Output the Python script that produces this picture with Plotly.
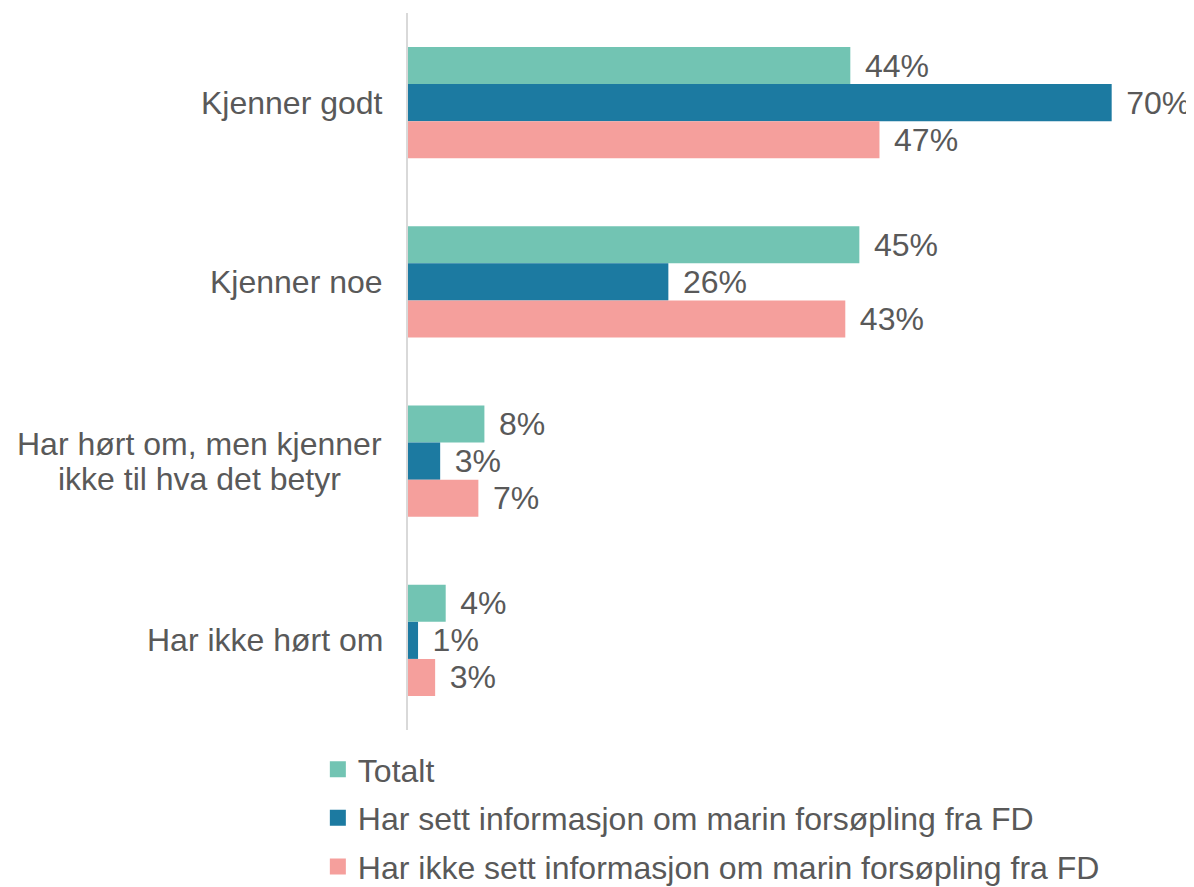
import plotly.graph_objects as go

categories = ["Kjenner godt", "Kjenner noe", "Har hørt om, men kjenner<br>ikke til hva det betyr", "Har ikke hørt om"]
series_names = ["Totalt", "Har sett informasjon om marin forsøpling fra FD", "Har ikke sett informasjon om marin forsøpling fra FD"]
totalt = [44.0, 44.9, 7.6, 3.75]
sett = [70.0, 25.9, 3.2, 1.0]
ikke_sett = [46.9, 43.5, 7.0, 2.7]
labels_totalt = ["44%", "45%", "8%", "4%"]
labels_sett = ["70%", "26%", "3%", "1%"]
labels_ikke = ["47%", "43%", "7%", "3%"]
colors = ["#72c4b3", "#1c7aa1", "#f59f9c"]

FONT = "Liberation Sans, Arial, sans-serif"
TXT = "#595959"
FS = 32

fig = go.Figure()
for name, vals, labs, col in zip(series_names, [totalt, sett, ikke_sett],
                                 [labels_totalt, labels_sett, labels_ikke], colors):
    fig.add_trace(go.Bar(
        y=categories, x=vals, orientation="h", name=name,
        marker=dict(color=col, line=dict(width=0)),
        text=["\u00a0\u200a" + l for l in labs], textposition="outside",
        constraintext="none",
        textfont=dict(family=FONT, size=FS, color=TXT),
        cliponaxis=False, showlegend=False, hoverinfo="skip",
    ))
    fig.add_trace(go.Scatter(
        x=[None], y=[None], mode="markers", name=name, legendgroup=name,
        marker=dict(symbol="square", size=16, color=col),
        showlegend=True,
    ))

# category labels, centred lines, right edge near the axis
LINE_GAP = 35
for c in categories:
    lines = c.split("<br>")
    n = len(lines)
    for i, ln in enumerate(lines):
        fig.add_annotation(text=ln, xref="paper", x=0, y=c, yref="y",
                           xanchor="center" if n > 1 else "right",
                           yanchor="middle",
                           xshift=(-23 if n == 1 else -209),
                           yshift=((n - 1) / 2 - i) * LINE_GAP,
                           showarrow=False,
                           font=dict(family=FONT, size=FS, color=TXT))

fig.update_layout(
    width=1186, height=879,
    margin=dict(l=400, r=22, t=5, b=157, autoexpand=False),
    paper_bgcolor="white", plot_bgcolor="white",
    barmode="group", bargap=0.38, bargroupgap=0,
    font=dict(family=FONT, size=FS, color=TXT),
    showlegend=True,
    legend=dict(x=-0.118, y=-0.0166, xanchor="left", yanchor="top",
                traceorder="grouped", tracegroupgap=4,
                font=dict(family=FONT, size=FS, color=TXT),
                bgcolor="rgba(0,0,0,0)"),
    xaxis=dict(range=[0, 76.0], showgrid=False, zeroline=False,
               showticklabels=False, showline=False, fixedrange=True),
    yaxis=dict(autorange="reversed", showgrid=False, zeroline=False,
               showticklabels=False, showline=True, linecolor="#d9d9d9",
               linewidth=2, ticks="", fixedrange=True),
)

fig.write_html("out.html")
